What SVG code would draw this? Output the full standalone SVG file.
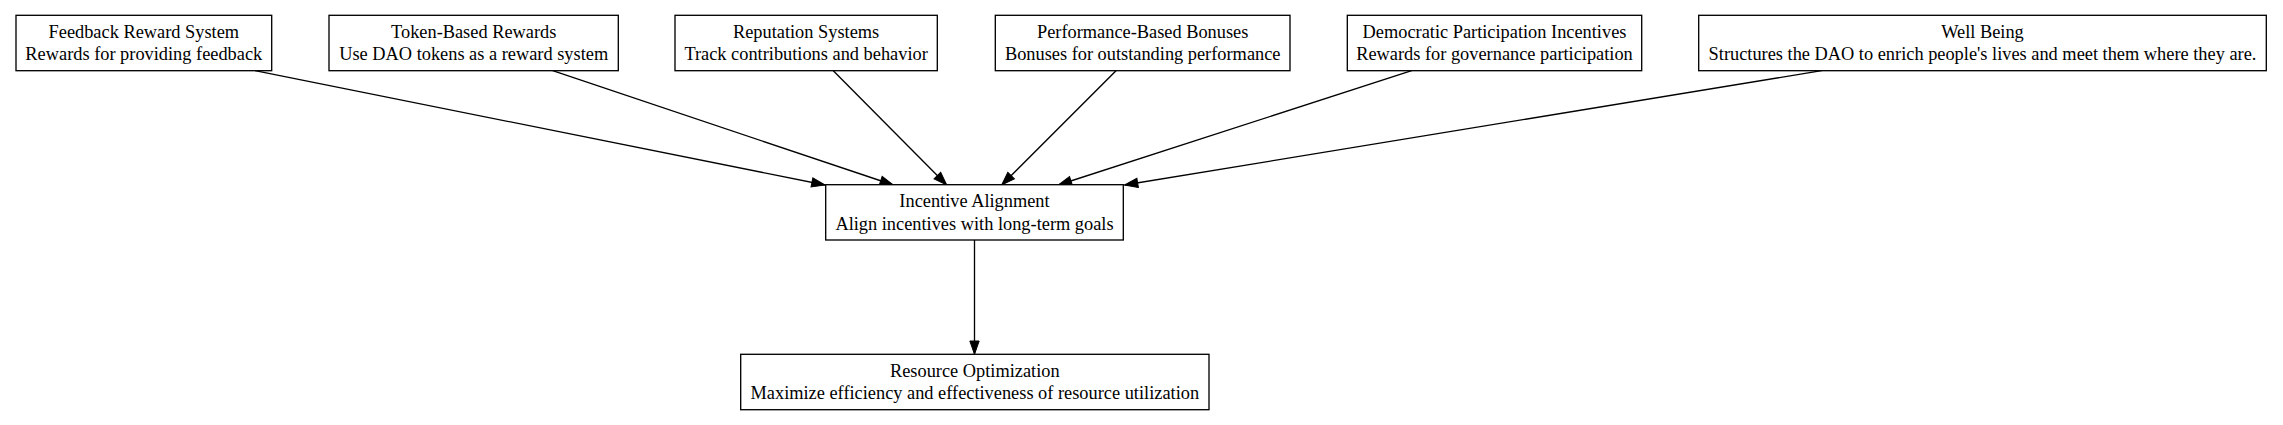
<svg xmlns="http://www.w3.org/2000/svg" width="2283" height="425" viewBox="0 0 2283 425">
<style>
.box{fill:#fff;stroke:#000;stroke-width:1.33}
.t{font-family:"Liberation Serif","Times New Roman",serif;font-size:18.35px;text-anchor:middle;fill:#000}
.e{fill:none;stroke:#000;stroke-width:1.33;marker-end:url(#ah)}
</style>
<defs>
<marker id="ah" markerUnits="userSpaceOnUse" markerWidth="14" markerHeight="10" refX="13.3" refY="4.67" orient="auto" overflow="visible">
<path d="M0,0 L13.3,4.67 L0,9.33 Z" fill="#000" stroke="#000" stroke-width="1"/>
</marker>
</defs>
<rect width="2283" height="425" fill="#fff"/>
<g id="connectors">
<path class="e" d="M255,70.7 L825,185"/>
<path class="e" d="M552.7,70.7 L893.3,185"/>
<path class="e" d="M833.3,70.7 L946.7,185"/>
<path class="e" d="M1116,70.7 L1001.7,185"/>
<path class="e" d="M1411.7,70.7 L1058.3,185"/>
<path class="e" d="M1821.7,70.7 L1124.5,185"/>
<path class="e" d="M974.5,240 L974.5,354.3"/>
</g>
<g id="feedback">
<rect class="box" x="16" y="15.3" width="255.7" height="55.4"/>
<text class="t" x="143.8" y="37.9">Feedback Reward System</text>
<text class="t" x="143.8" y="60.3">Rewards for providing feedback</text>
</g>
<g id="token">
<rect class="box" x="329" y="15.3" width="289.3" height="55.4"/>
<text class="t" x="473.7" y="37.9">Token-Based Rewards</text>
<text class="t" x="473.7" y="60.3">Use DAO tokens as a reward system</text>
</g>
<g id="reputation">
<rect class="box" x="675" y="15.3" width="262.3" height="55.4"/>
<text class="t" x="806.1" y="37.9">Reputation Systems</text>
<text class="t" x="806.1" y="60.3">Track contributions and behavior</text>
</g>
<g id="performance">
<rect class="box" x="995.3" y="15.3" width="294.7" height="55.4"/>
<text class="t" x="1142.7" y="37.9">Performance-Based Bonuses</text>
<text class="t" x="1142.7" y="60.3">Bonuses for outstanding performance</text>
</g>
<g id="democratic">
<rect class="box" x="1347.3" y="15.3" width="294.4" height="55.4"/>
<text class="t" x="1494.5" y="37.9">Democratic Participation Incentives</text>
<text class="t" x="1494.5" y="60.3">Rewards for governance participation</text>
</g>
<g id="wellbeing">
<rect class="box" x="1698.7" y="15.3" width="567.6" height="55.4"/>
<text class="t" x="1982.5" y="37.9">Well Being</text>
<text class="t" x="1982.5" y="60.3">Structures the DAO to enrich people's lives and meet them where they are.</text>
</g>
<g id="incentive">
<rect class="box" x="825.7" y="184.7" width="297.6" height="55.3"/>
<text class="t" x="974.5" y="207.2">Incentive Alignment</text>
<text class="t" x="974.5" y="229.7">Align incentives with long-term goals</text>
</g>
<g id="resource">
<rect class="box" x="740.7" y="354.3" width="468.3" height="55.4"/>
<text class="t" x="974.8" y="376.9">Resource Optimization</text>
<text class="t" x="974.8" y="399.3">Maximize efficiency and effectiveness of resource utilization</text>
</g>
</svg>
